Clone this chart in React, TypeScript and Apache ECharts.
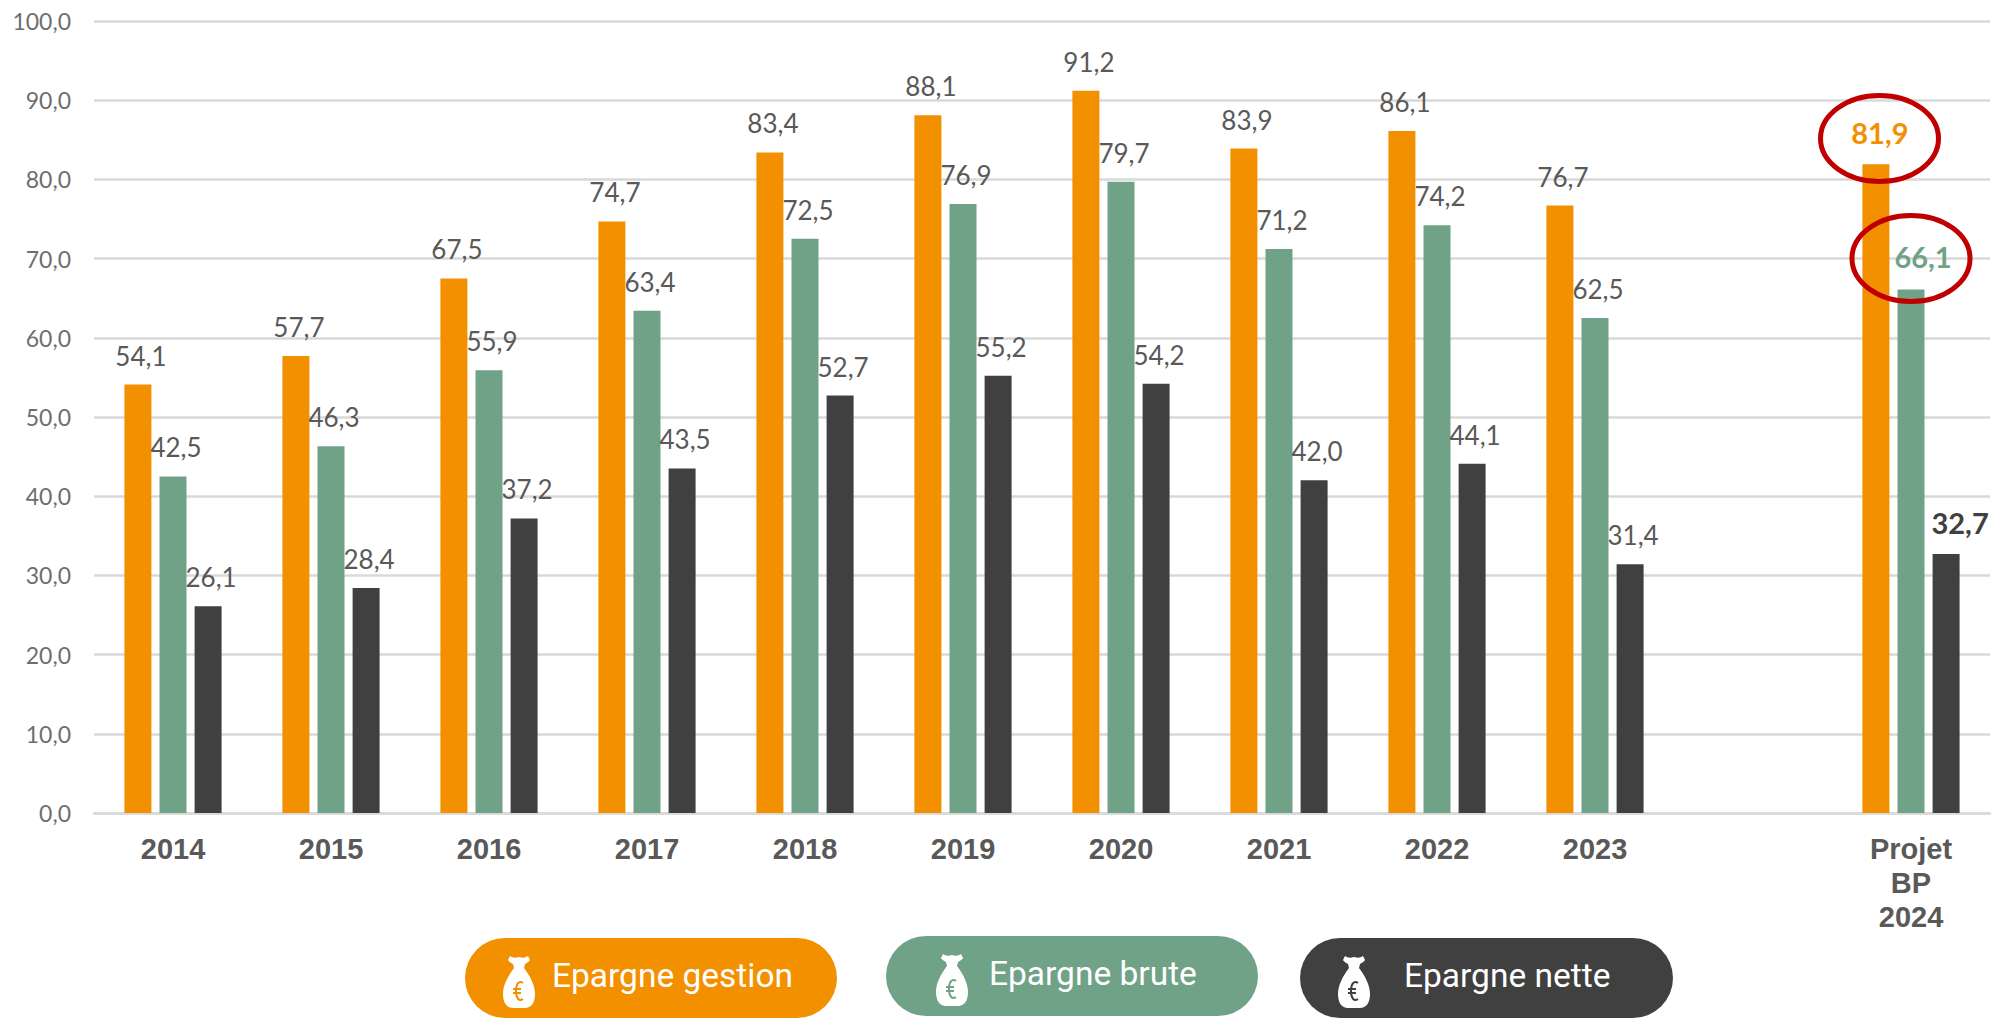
import React, { useEffect, useRef } from "react";
import * as echarts from "echarts";

const categories = ["2014", "2015", "2016", "2017", "2018", "2019", "2020", "2021", "2022", "2023", "", "Projet\nBP\n2024"];
const epargneGestion = [54.1, 57.7, 67.5, 74.7, 83.4, 88.1, 91.2, 83.9, 86.1, 76.7, null, 81.9];
const epargneBrute = [42.5, 46.3, 55.9, 63.4, 72.5, 76.9, 79.7, 71.2, 74.2, 62.5, null, 66.1];
const epargneNette = [26.1, 28.4, 37.2, 43.5, 52.7, 55.2, 54.2, 42.0, 44.1, 31.4, null, 32.7];

const ORANGE = "#F39000";
const GREEN = "#70A288";
const DARK = "#404040";
const FONT = "Lato, 'Open Sans', sans-serif";

const BAG =
  "M7 0 C10 2 12 2 16 1 C20 2 22 2 25 0 L27 4 C25 7 23 7 22 8 L21 12 C27 20 32 29 32 38 C32 47 28 52 22 52 L10 52 C4 52 0 47 0 38 C0 29 5 20 11 12 L10 8 C9 7 7 7 5 4 Z";
const EURO = "M20 27 C16 24 13 28 13 35 C13 42 16 46 20 43 M10 33 L18 33 M10 37 L18 37";

echarts.graphic.registerShape("moneyBag", echarts.graphic.extendPath(BAG as any, {}) as any);
echarts.graphic.registerShape("euroMark", echarts.graphic.extendPath(EURO as any, {}) as any);

const fmt = (v: number) => v.toFixed(1).replace(".", ",");

function seriesOf(
  name: string,
  values: (number | null)[],
  color: string,
  lastOffset: [number, number],
  lastDistance: number
) {
  const last = values.length - 1;
  return {
    name,
    type: "bar",
    barWidth: 27,
    barGap: "30%",
    itemStyle: { color },
    data: values.map((v, i) =>
      i === last
        ? {
            value: v,
            label: {
              show: true,
              position: "top",
              distance: lastDistance,
              offset: lastOffset,
              fontFamily: FONT,
              fontSize: 29,
              fontWeight: "bold",
              color,
              formatter: (p: any) => fmt(p.value),
            },
          }
        : v
    ),
    label: {
      show: true,
      position: "top",
      distance: 16,
      offset: [3, 0],
      fontFamily: FONT,
      fontSize: 26,
      color: "#595959",
      formatter: (p: any) => (p.value == null ? "" : fmt(p.value)),
    },
  };
}

function pill(
  x: number,
  y: number,
  width: number,
  color: string,
  iconX: number,
  iconY: number,
  textX: number,
  textY: number,
  text: string
) {
  return [
    { type: "rect", shape: { x, y, width, height: 80, r: 40 }, style: { fill: color } },
    { type: "moneyBag", x: iconX, y: iconY, style: { fill: "#ffffff" } },
    { type: "euroMark", x: iconX, y: iconY, style: { fill: "none", stroke: color, lineWidth: 2 } },
    {
      type: "text",
      x: textX,
      y: textY,
      style: { text, fill: "#ffffff", font: "33.5px Roboto, sans-serif", verticalAlign: "middle" },
    },
  ];
}

export default function App() {
  const ref = useRef<HTMLDivElement>(null);
  useEffect(() => {
    document.body.style.margin = "0";
    const chart = echarts.init(ref.current!, undefined, { renderer: "svg" });
    chart.setOption({
      animation: false,
      backgroundColor: "#ffffff",
      grid: { left: 94, right: 3, top: 21, height: 792, containLabel: false },
      xAxis: {
        type: "category",
        data: categories,
        axisTick: { show: false },
        axisLine: { lineStyle: { color: "#d9d9d9", width: 2.5 } },
        axisLabel: {
          interval: 0,
          margin: 19,
          color: "#595959",
          fontFamily: "'Liberation Sans', Arial, sans-serif",
          fontWeight: "bold",
          fontSize: 29,
          lineHeight: 34,
        },
      },
      yAxis: {
        type: "value",
        min: 0,
        max: 100,
        interval: 10,
        axisLine: { show: false },
        axisTick: { show: false },
        splitLine: { lineStyle: { color: "#d9d9d9", width: 2.5 } },
        axisLabel: {
          margin: 23,
          color: "#6e6e6e",
          fontFamily: FONT,
          fontSize: 23,
          formatter: (v: number) => fmt(v),
        },
      },
      series: [
        seriesOf("Epargne gestion", epargneGestion, ORANGE, [4, 0], 17),
        seriesOf("Epargne brute", epargneBrute, GREEN, [12, 0], 18),
        seriesOf("Epargne nette", epargneNette, DARK, [14, 0], 17),
      ],
      graphic: [
        ...pill(465, 938, 372, ORANGE, 503, 956, 552, 975, "Epargne gestion"),
        ...pill(886, 936, 372, GREEN, 936, 954, 989, 973, "Epargne brute"),
        ...pill(1300, 938, 373, DARK, 1338, 956, 1404, 975, "Epargne nette"),
        {
          type: "ellipse",
          z: 100,
          shape: { cx: 1879.5, cy: 138.5, rx: 59, ry: 43 },
          style: { fill: "none", stroke: "#C00000", lineWidth: 5 },
        },
        {
          type: "ellipse",
          z: 100,
          shape: { cx: 1911, cy: 258.5, rx: 59, ry: 43 },
          style: { fill: "none", stroke: "#C00000", lineWidth: 5 },
        },
      ],
    });
    return () => chart.dispose();
  }, []);
  return <div ref={ref} style={{ width: 1993, height: 1018 }} />;
}
